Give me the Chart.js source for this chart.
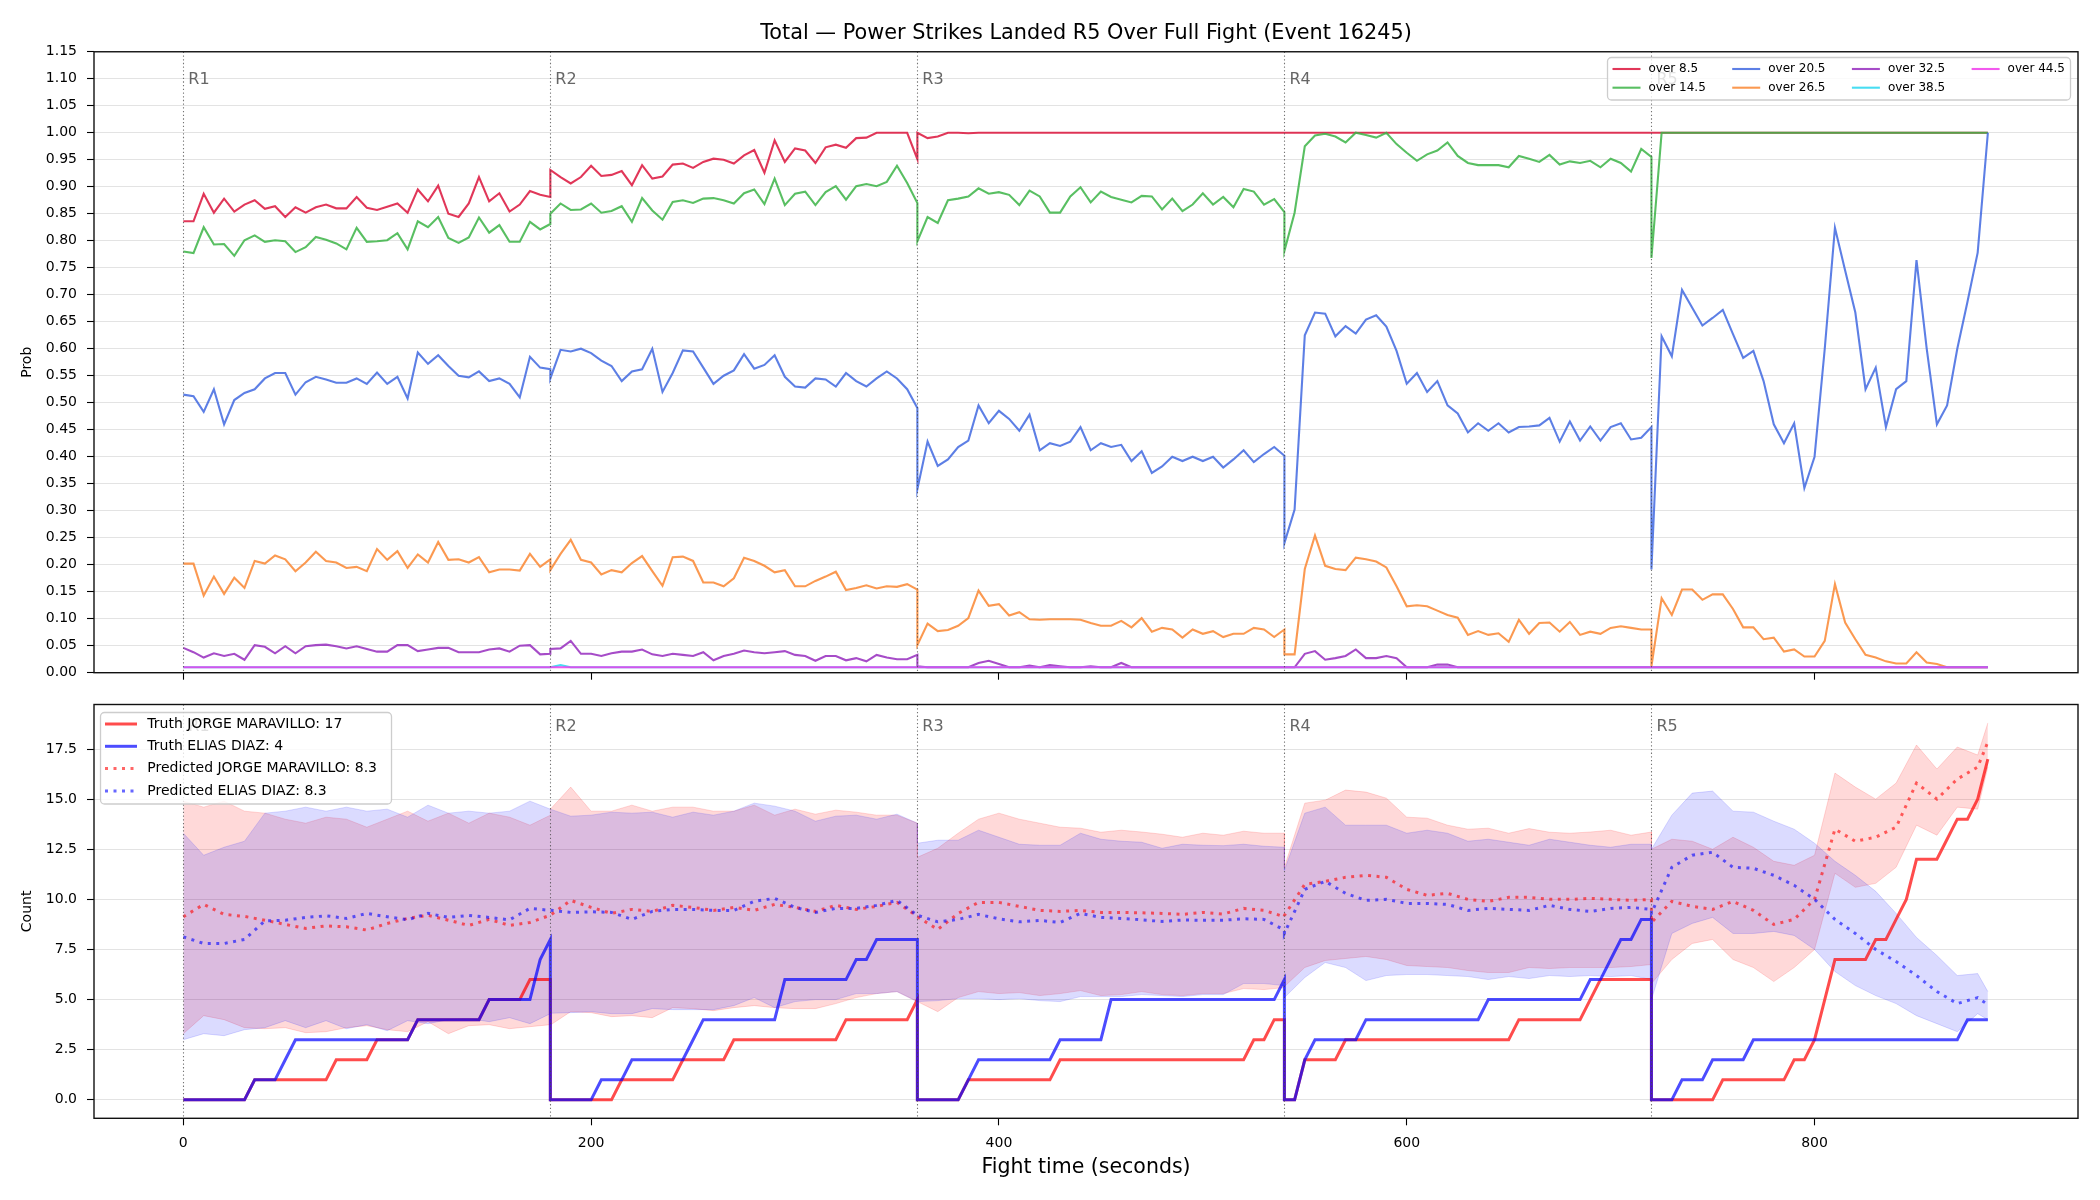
<!DOCTYPE html>
<html><head><meta charset="utf-8">
<script src="https://cdn.jsdelivr.net/npm/chart.js@4.4.1/dist/chart.umd.min.js"></script>
<style>
html,body{margin:0;padding:0;background:#fff;}
#wrap{position:relative;width:2100px;height:1200px;overflow:hidden;background:#fff;}
canvas{position:absolute;left:0;}
#c1{top:0;} #c2{top:684px;}
</style></head><body>
<div id="wrap"><canvas id="c1" width="2100" height="684"></canvas><canvas id="c2" width="2100" height="516"></canvas></div>
<script>
// ---------------- DATA ----------------
const titleText = 'Total \u2014 Power Strikes Landed R5 Over Full Fight (Event 16245)';
const roundStarts = [0, 180, 360, 540, 720];
const roundLabels = ['R1', 'R2', 'R3', 'R4', 'R5'];
const samplesPerRound = [37, 37, 37, 37, 34];          // 5-second samples
const bandOffsets   = [0,10,20,30,40,50,60,70,80,90,100,110,120,130,140,150,160,170,180];
const bandOffsetsR5 = [0,10,20,30,40,50,60,70,80,90,100,110,120,130,140,150,160,165];
const timeTicks  = [0, 200, 400, 600, 800];
const probTicks  = [0.00,0.05,0.10,0.15,0.20,0.25,0.30,0.35,0.40,0.45,0.50,0.55,0.60,0.65,0.70,0.75,0.80,0.85,0.90,0.95,1.00,1.05,1.10,1.15];
const countTicks = [0.0, 2.5, 5.0, 7.5, 10.0, 12.5, 15.0, 17.5];

const topNames = ['over 8.5','over 14.5','over 20.5','over 26.5','over 32.5','over 38.5','over 44.5'];

const over8_5 = [
 0.836,0.836,0.887,0.852,0.878,0.854,0.867,0.875,0.859,0.864,0.844,0.862,0.852,0.862,0.867,0.860,0.860,0.881,0.861,0.857,0.863,0.869,0.852,0.895,0.873,0.902,0.850,0.844,0.869,0.918,0.873,0.888,0.854,0.867,0.892,0.885,0.881,
 0.931,0.918,0.906,0.918,0.939,0.920,0.922,0.929,0.903,0.940,0.915,0.919,0.941,0.943,0.935,0.946,0.952,0.950,0.943,0.958,0.968,0.926,0.986,0.946,0.971,0.967,0.944,0.973,0.978,0.972,0.990,0.991,1.0,1.0,1.0,1.0,0.951,
 1.0,0.990,0.993,1.0,1.0,0.999,1.0,1.0,1.0,1.0, 1.0,1.0,1.0,1.0,1.0,1.0,1.0,1.0,1.0,1.0, 1.0,1.0,1.0,1.0,1.0,1.0,1.0,1.0,1.0,1.0, 1.0,1.0,1.0,1.0,1.0,1.0,1.0,
 1.0,1.0,1.0,1.0,1.0,1.0,1.0,1.0,1.0,1.0, 1.0,1.0,1.0,1.0,1.0,1.0,1.0,1.0,1.0,1.0, 1.0,1.0,1.0,1.0,1.0,1.0,1.0,1.0,1.0,1.0, 1.0,1.0,1.0,1.0,1.0,1.0,1.0,
 1.0,1.0,1.0,1.0,1.0,1.0,1.0,1.0,1.0,1.0, 1.0,1.0,1.0,1.0,1.0,1.0,1.0,1.0,1.0,1.0, 1.0,1.0,1.0,1.0,1.0,1.0,1.0,1.0,1.0,1.0, 1.0,1.0,1.0,1.0
];
const over14_5 = [
 0.780,0.777,0.825,0.793,0.794,0.772,0.801,0.810,0.798,0.801,0.799,0.779,0.788,0.807,0.802,0.795,0.784,0.824,0.798,0.799,0.801,0.814,0.784,0.836,0.825,0.844,0.805,0.796,0.806,0.843,0.815,0.829,0.798,0.798,0.835,0.821,0.831,
 0.850,0.869,0.857,0.858,0.869,0.852,0.855,0.864,0.835,0.879,0.856,0.839,0.872,0.875,0.870,0.878,0.879,0.875,0.869,0.888,0.895,0.868,0.915,0.866,0.887,0.891,0.866,0.890,0.901,0.876,0.901,0.905,0.901,0.909,0.939,0.907,0.870,
 0.799,0.844,0.833,0.875,0.878,0.882,0.897,0.887,0.890,0.885,0.866,0.893,0.882,0.852,0.852,0.882,0.899,0.871,0.891,0.881,0.876,0.871,0.883,0.882,0.858,0.878,0.855,0.867,0.888,0.867,0.881,0.862,0.896,0.891,0.867,0.877,0.853,
 0.781,0.852,0.975,0.995,0.998,0.993,0.982,1.0,0.996,0.991,1.0,0.979,0.963,0.948,0.960,0.967,0.982,0.957,0.944,0.940,0.940,0.940,0.936,0.957,0.952,0.946,0.959,0.941,0.947,0.944,0.948,0.936,0.952,0.944,0.928,0.970,0.955,
 0.768,1.0,1.0,1.0,1.0,1.0,1.0,1.0,1.0,1.0, 1.0,1.0,1.0,1.0,1.0,1.0,1.0,1.0,1.0,1.0, 1.0,1.0,1.0,1.0,1.0,1.0,1.0,1.0,1.0,1.0, 1.0,1.0,1.0,1.0
];
const over20_5 = [
 0.515,0.512,0.483,0.525,0.460,0.505,0.518,0.525,0.545,0.555,0.555,0.515,0.538,0.548,0.543,0.537,0.537,0.545,0.535,0.556,0.535,0.548,0.508,0.593,0.572,0.588,0.568,0.550,0.547,0.558,0.540,0.545,0.535,0.510,0.585,0.565,0.562,
 0.545,0.598,0.595,0.600,0.592,0.578,0.568,0.540,0.558,0.562,0.600,0.520,0.555,0.597,0.595,0.565,0.535,0.550,0.560,0.590,0.563,0.570,0.588,0.548,0.530,0.528,0.545,0.543,0.530,0.555,0.540,0.530,0.545,0.558,0.545,0.525,0.490,
 0.340,0.428,0.383,0.395,0.418,0.430,0.495,0.462,0.485,0.470,0.448,0.478,0.412,0.425,0.420,0.428,0.455,0.412,0.425,0.418,0.422,0.392,0.410,0.370,0.382,0.400,0.392,0.400,0.392,0.400,0.380,0.395,0.412,0.390,0.405,0.418,0.402,
 0.240,0.302,0.625,0.667,0.665,0.623,0.642,0.628,0.654,0.662,0.641,0.596,0.535,0.555,0.520,0.540,0.495,0.480,0.445,0.462,0.448,0.462,0.445,0.455,0.456,0.458,0.472,0.428,0.465,0.430,0.456,0.430,0.455,0.462,0.432,0.435,0.455,
 0.191,0.623,0.586,0.709,0.676,0.643,0.657,0.672,0.627,0.583,0.596,0.540,0.460,0.425,0.462,0.342,0.400,0.600,0.824,0.745,0.667,0.525,0.565,0.455,0.525,0.540,0.764,0.600,0.460,0.495,0.600,0.687,0.778,1.000
];
const over26_5 = [
 0.202,0.202,0.143,0.178,0.146,0.176,0.157,0.207,0.202,0.217,0.210,0.188,0.204,0.224,0.207,0.204,0.194,0.196,0.188,0.229,0.209,0.225,0.194,0.219,0.204,0.242,0.209,0.210,0.204,0.214,0.186,0.191,0.191,0.189,0.220,0.196,0.210,
 0.190,0.220,0.246,0.209,0.204,0.182,0.190,0.186,0.203,0.216,0.188,0.161,0.214,0.215,0.207,0.167,0.167,0.160,0.175,0.213,0.207,0.198,0.186,0.190,0.160,0.160,0.170,0.178,0.187,0.153,0.157,0.162,0.156,0.160,0.159,0.164,0.154,
 0.051,0.091,0.077,0.079,0.087,0.101,0.152,0.124,0.127,0.106,0.112,0.099,0.098,0.099,0.099,0.099,0.098,0.092,0.087,0.087,0.096,0.084,0.101,0.076,0.083,0.080,0.065,0.080,0.072,0.077,0.066,0.072,0.072,0.083,0.080,0.066,0.080,
 0.034,0.034,0.192,0.254,0.198,0.192,0.190,0.213,0.210,0.206,0.195,0.160,0.123,0.125,0.123,0.115,0.107,0.102,0.070,0.077,0.070,0.073,0.057,0.098,0.072,0.092,0.093,0.076,0.094,0.070,0.076,0.072,0.083,0.086,0.083,0.080,0.080,
 0.012,0.138,0.107,0.154,0.154,0.135,0.145,0.145,0.118,0.084,0.084,0.062,0.065,0.039,0.043,0.030,0.030,0.059,0.164,0.093,0.062,0.033,0.028,0.021,0.017,0.017,0.038,0.019,0.016,0.010,0.010,0.010,0.010,0.010
];
const over32_5 = [
 0.046,0.038,0.028,0.036,0.031,0.035,0.024,0.051,0.048,0.036,0.049,0.036,0.049,0.051,0.052,0.049,0.045,0.049,0.044,0.039,0.039,0.051,0.051,0.040,0.043,0.046,0.046,0.038,0.038,0.038,0.043,0.045,0.039,0.050,0.051,0.034,0.035,
 0.044,0.045,0.059,0.035,0.035,0.031,0.036,0.039,0.039,0.043,0.034,0.031,0.035,0.033,0.031,0.038,0.023,0.031,0.035,0.041,0.038,0.036,0.038,0.040,0.033,0.031,0.022,0.031,0.031,0.023,0.027,0.021,0.033,0.028,0.025,0.025,0.033,
 0.012,0.010,0.010,0.010,0.010,0.010,0.018,0.022,0.016,0.010,0.010,0.013,0.010,0.014,0.012,0.010,0.010,0.012,0.010,0.010,0.018,0.010,0.010,0.010,0.010,0.010,0.010,0.010,0.010,0.010,0.010,0.010,0.010,0.010,0.010,0.010,0.010,
 0.010,0.010,0.035,0.040,0.024,0.027,0.031,0.043,0.027,0.027,0.031,0.027,0.010,0.010,0.010,0.015,0.015,0.010,0.010,0.010,0.010,0.010,0.010,0.010,0.010,0.010,0.010,0.010,0.010,0.010,0.010,0.010,0.010,0.010,0.010,0.010,0.010,
 0.010,0.010,0.010,0.010,0.010,0.010,0.010,0.010,0.010,0.010,0.010,0.010,0.010,0.010,0.010,0.010,0.010,0.010,0.010,0.010,0.010,0.010,0.010,0.010,0.010,0.010,0.010,0.010,0.010,0.010,0.010,0.010,0.010,0.010
];
const over38_5 = [
 0.010,0.010,0.010,0.010,0.010,0.010,0.010,0.010,0.010,0.010,0.010,0.010,0.010,0.010,0.010,0.010,0.010,0.010,0.010,0.010,0.010,0.010,0.010,0.010,0.010,0.010,0.010,0.010,0.010,0.010,0.010,0.010,0.010,0.010,0.010,0.010,0.010,
 0.010,0.014,0.010,0.010,0.010,0.010,0.010,0.010,0.010,0.010,0.010,0.010,0.010,0.010,0.010,0.010,0.010,0.010,0.010,0.010,0.010,0.010,0.010,0.010,0.010,0.010,0.010,0.010,0.010,0.010,0.010,0.010,0.010,0.010,0.010,0.010,0.010,
 0.010,0.010,0.010,0.010,0.010,0.010,0.010,0.010,0.010,0.010,0.010,0.010,0.010,0.010,0.010,0.010,0.010,0.010,0.010,0.010,0.010,0.010,0.010,0.010,0.010,0.010,0.010,0.010,0.010,0.010,0.010,0.010,0.010,0.010,0.010,0.010,0.010,
 0.010,0.010,0.010,0.010,0.010,0.010,0.010,0.010,0.010,0.010,0.010,0.010,0.010,0.010,0.010,0.010,0.010,0.010,0.010,0.010,0.010,0.010,0.010,0.010,0.010,0.010,0.010,0.010,0.010,0.010,0.010,0.010,0.010,0.010,0.010,0.010,0.010,
 0.010,0.010,0.010,0.010,0.010,0.010,0.010,0.010,0.010,0.010,0.010,0.010,0.010,0.010,0.010,0.010,0.010,0.010,0.010,0.010,0.010,0.010,0.010,0.010,0.010,0.010,0.010,0.010,0.010,0.010,0.010,0.010,0.010,0.010
];
const over44_5 = [
 0.010,0.010,0.010,0.010,0.010,0.010,0.010,0.010,0.010,0.010,0.010,0.010,0.010,0.010,0.010,0.010,0.010,0.010,0.010,0.010,0.010,0.010,0.010,0.010,0.010,0.010,0.010,0.010,0.010,0.010,0.010,0.010,0.010,0.010,0.010,0.010,0.010,
 0.010,0.010,0.010,0.010,0.010,0.010,0.010,0.010,0.010,0.010,0.010,0.010,0.010,0.010,0.010,0.010,0.010,0.010,0.010,0.010,0.010,0.010,0.010,0.010,0.010,0.010,0.010,0.010,0.010,0.010,0.010,0.010,0.010,0.010,0.010,0.010,0.010,
 0.010,0.010,0.010,0.010,0.010,0.010,0.010,0.010,0.010,0.010,0.010,0.010,0.010,0.010,0.010,0.010,0.010,0.010,0.010,0.010,0.010,0.010,0.010,0.010,0.010,0.010,0.010,0.010,0.010,0.010,0.010,0.010,0.010,0.010,0.010,0.010,0.010,
 0.010,0.010,0.010,0.010,0.010,0.010,0.010,0.010,0.010,0.010,0.010,0.010,0.010,0.010,0.010,0.010,0.010,0.010,0.010,0.010,0.010,0.010,0.010,0.010,0.010,0.010,0.010,0.010,0.010,0.010,0.010,0.010,0.010,0.010,0.010,0.010,0.010,
 0.010,0.010,0.010,0.010,0.010,0.010,0.010,0.010,0.010,0.010,0.010,0.010,0.010,0.010,0.010,0.010,0.010,0.010,0.010,0.010,0.010,0.010,0.010,0.010,0.010,0.010,0.010,0.010,0.010,0.010,0.010,0.010,0.010,0.010
];

// bottom panel
const fighterLabels = ['Truth JORGE MARAVILLO: 17', 'Truth ELIAS DIAZ: 4', 'Predicted JORGE MARAVILLO: 8.3', 'Predicted ELIAS DIAZ: 8.3'];
const truthRed = [
 0,0,0,0,0,0,0,1,1,1,1,1,1,1,1,2,2,2,2,3,3,3,3,4,4,4,4,4,4,4,5,5,5,5,6,6,6,
 0,0,0,0,0,0,0,1,1,1,1,1,1,2,2,2,2,2,3,3,3,3,3,3,3,3,3,3,3,4,4,4,4,4,4,4,5,
 0,0,0,0,0,1,1,1,1,1,1,1,1,1,2,2,2,2,2,2,2,2,2,2,2,2,2,2,2,2,2,2,2,3,3,4,4,
 0,0,2,2,2,2,3,3,3,3,3,3,3,3,3,3,3,3,3,3,3,3,3,4,4,4,4,4,4,4,5,6,6,6,6,6,6,
 0,0,0,0,0,0,0,1,1,1,1,1,1,1,2,2,3,5,7,7,7,7,8,8,9,10,12,12,12,13,14,14,15,17
];
const truthBlue = [
 0,0,0,0,0,0,0,1,1,1,2,3,3,3,3,3,3,3,3,3,3,3,3,4,4,4,4,4,4,4,5,5,5,5,5,7,8,
 0,0,0,0,0,1,1,1,2,2,2,2,2,2,3,4,4,4,4,4,4,4,4,6,6,6,6,6,6,6,7,7,8,8,8,8,8,
 0,0,0,0,0,1,2,2,2,2,2,2,2,2,3,3,3,3,3,5,5,5,5,5,5,5,5,5,5,5,5,5,5,5,5,5,6,
 0,0,2,3,3,3,3,3,4,4,4,4,4,4,4,4,4,4,4,4,5,5,5,5,5,5,5,5,5,5,6,6,7,8,8,9,9,
 0,0,0,1,1,1,2,2,2,2,3,3,3,3,3,3,3,3,3,3,3,3,3,3,3,3,3,3,3,3,3,4,4,4
];
const predRed = [
 9.13,9.75,9.25,9.15,8.96,8.75,8.55,8.68,8.63,8.47,8.8,9.05,9.2,8.96,8.7,9.0,8.7,8.85,9.21,
 9.21,9.95,9.6,9.3,9.5,9.4,9.7,9.6,9.45,9.6,9.45,9.75,9.6,9.4,9.7,9.5,9.65,9.85,9.15,
 9.13,8.5,9.3,9.85,9.85,9.65,9.45,9.4,9.45,9.35,9.35,9.33,9.3,9.25,9.35,9.27,9.55,9.45,9.13,
 9.2,10.75,10.9,11.1,11.2,11.1,10.5,10.2,10.3,10.0,9.9,10.1,10.1,10.0,10.0,10.05,10.0,9.95,10.0,
 8.85,9.9,9.65,9.5,9.9,9.45,8.75,9.0,10.0,13.5,12.9,13.1,13.6,15.8,15.0,16.0,16.6,17.85
];
const predBlue = [
 8.13,7.8,7.8,8.0,8.93,8.96,9.1,9.18,9.05,9.3,9.13,8.98,9.3,9.1,9.2,9.1,8.98,9.55,9.45,
 9.46,9.35,9.38,9.35,9.0,9.4,9.5,9.5,9.45,9.45,9.9,10.05,9.6,9.35,9.55,9.55,9.7,9.95,9.2,
 9.21,8.88,9.0,9.25,9.03,8.88,8.95,8.85,9.3,9.1,9.05,8.98,8.9,8.97,8.96,8.96,9.03,9.0,8.47,
 8.3,10.5,10.9,10.3,9.95,10.0,9.8,9.8,9.75,9.45,9.55,9.5,9.45,9.7,9.5,9.4,9.55,9.6,9.5,
 9.3,11.6,12.2,12.35,11.6,11.55,11.2,10.7,10.0,9.0,8.3,7.5,6.9,6.2,5.4,4.8,5.1,4.75
];
const redHi = [
 14.9,14.6,14.9,14.4,14.3,14.0,13.8,14.1,14.0,13.6,14.0,14.4,13.9,14.3,13.8,14.3,14.1,13.7,14.2,
 14.5,15.6,14.4,14.4,14.7,14.4,14.6,14.6,14.4,14.4,14.7,14.2,14.5,14.25,14.45,14.35,14.2,14.2,13.8,
 12.1,12.55,13.3,14.0,14.3,14.0,13.8,13.6,13.55,13.35,13.45,13.36,13.25,13.1,13.3,13.2,13.4,13.3,13.3,
 11.6,14.8,14.95,15.45,15.35,15.05,14.1,14.05,13.7,13.5,13.55,13.3,13.53,13.35,13.3,13.36,13.45,13.2,13.36,
 12.5,13.0,12.9,12.5,13.1,12.6,11.9,11.7,12.2,16.3,15.6,15.0,15.8,17.7,16.5,17.6,17.2,18.8
];
const redLo = [
 3.3,4.2,4.0,3.6,3.55,3.6,3.35,3.4,3.6,3.7,3.5,3.4,3.9,3.3,3.7,3.75,3.55,3.65,3.75,
 3.73,4.4,4.35,4.15,4.2,4.1,4.6,4.55,4.45,4.6,4.7,4.6,4.55,4.55,4.8,5.1,5.3,5.4,4.9,
 4.9,4.4,5.1,5.4,5.3,5.35,5.2,5.3,5.45,5.2,5.25,5.4,5.25,5.2,5.3,5.3,5.55,5.5,5.6,
 5.65,6.6,6.95,7.05,7.15,7.0,6.7,6.65,6.6,6.45,6.35,6.35,6.6,6.55,6.6,6.6,6.6,6.65,6.75,
 5.8,7.0,7.8,8.0,7.0,6.6,5.9,6.6,7.5,11.3,10.6,10.8,11.6,13.7,13.2,14.6,14.5,16.6
];
const blueHi = [
 13.3,12.2,12.6,12.9,14.3,14.4,14.6,14.4,14.6,14.4,14.5,14.1,14.7,14.3,14.4,14.3,14.4,14.9,14.5,
 14.5,14.15,14.2,14.35,14.3,14.35,14.1,14.35,14.2,14.4,14.8,14.65,14.4,13.9,14.15,14.2,14.0,14.25,13.8,
 12.8,12.95,12.95,13.45,13.1,12.75,12.7,12.7,13.3,13.0,12.9,12.85,12.55,12.75,12.7,12.68,12.75,12.65,12.6,
 11.45,14.3,14.6,13.7,13.7,13.7,13.3,13.45,13.3,12.9,13.0,12.85,12.7,13.0,12.85,12.7,12.6,12.75,12.75,
 12.5,14.2,15.3,15.4,14.4,14.35,13.9,13.5,12.8,11.9,11.2,10.4,9.3,8.1,7.2,6.2,6.3,5.4
];
const blueLo = [
 3.0,3.3,3.2,3.5,3.6,3.95,3.6,3.95,3.55,3.75,3.45,3.95,3.8,4.0,4.05,3.9,4.1,3.8,4.3,
 4.32,4.35,4.4,4.3,4.3,4.55,4.5,4.5,4.5,4.7,5.1,4.6,4.9,5.0,5.0,5.3,5.3,5.4,4.9,
 4.9,4.95,5.05,5.05,5.0,5.05,4.95,4.9,5.15,5.15,5.15,5.25,5.2,5.15,5.25,5.25,5.8,5.8,5.7,
 5.1,6.1,6.85,6.6,5.95,6.2,6.25,6.25,6.2,6.15,6.0,6.15,6.05,6.2,6.15,6.2,6.15,6.2,6.0,
 5.0,8.3,8.8,9.1,8.3,8.3,8.4,8.2,7.5,6.4,5.7,5.2,4.8,4.2,3.8,3.4,4.3,4.0
];

// ---------------- BUILD ----------------
const FONT = '"DejaVu Sans", "Liberation Sans", sans-serif';
Chart.defaults.font.family = FONT;
Chart.defaults.font.size = 14;
Chart.defaults.color = '#000';

const t5 = [];
roundStarts.forEach((s, r) => { for (let k = 0; k < samplesPerRound[r]; k++) t5.push(s + 5 * k); });
const bandTimes = [];
roundStarts.forEach((s, r) => { (r === 4 ? bandOffsetsR5 : bandOffsets).forEach(o => bandTimes.push(s + o)); });
const pts = (ts, vs) => ts.map((t, i) => ({ x: t, y: vs[i] }));

const roundMarks = {
  id: 'roundMarks',
  afterDatasetsDraw(chart, args, o) {
    const { ctx, chartArea: a, scales } = chart;
    const x = scales.x, y = scales.y;
    ctx.save();
    ctx.beginPath(); ctx.rect(a.left, a.top, a.right - a.left, a.bottom - a.top); ctx.clip();
    ctx.strokeStyle = 'rgba(70,70,70,0.75)'; ctx.lineWidth = 1.1; ctx.setLineDash([1.3, 2.4]);
    roundStarts.forEach(t => {
      const px = Math.round(x.getPixelForValue(t)) + 0.5;
      ctx.beginPath(); ctx.moveTo(px, a.top); ctx.lineTo(px, a.bottom); ctx.stroke();
    });
    ctx.setLineDash([]);
    ctx.fillStyle = 'rgba(85,85,85,0.9)'; ctx.font = '16px ' + FONT;
    ctx.textAlign = 'left'; ctx.textBaseline = 'alphabetic';
    roundLabels.forEach((lab, i) => ctx.fillText(lab, x.getPixelForValue(roundStarts[i]) + 5, y.getPixelForValue(o.labelY)));
    ctx.restore();
    ctx.save();
    ctx.strokeStyle = '#111'; ctx.lineWidth = 1.4;
    ctx.strokeRect(a.left, a.top, a.right - a.left, a.bottom - a.top);
    ctx.restore();
  }
};

const boxLegend = {
  id: 'boxLegend',
  afterDraw(chart, args, o) {
    const ctx = chart.ctx;
    ctx.save();
    ctx.setLineDash([]);
    ctx.beginPath();
    if (ctx.roundRect) ctx.roundRect(o.x, o.y, o.w, o.h, 4); else ctx.rect(o.x, o.y, o.w, o.h);
    ctx.fillStyle = 'rgba(255,255,255,0.8)'; ctx.fill();
    ctx.strokeStyle = 'rgba(200,200,200,0.9)'; ctx.lineWidth = 1.3; ctx.stroke();
    ctx.font = o.fontSize + 'px ' + FONT; ctx.textBaseline = 'middle'; ctx.textAlign = 'left';
    o.items.forEach(it => {
      const ds = chart.data.datasets[it.ds];
      const hx = o.x0 + it.col * o.colW, hy = o.y0 + it.row * o.rowH;
      ctx.strokeStyle = ds.borderColor; ctx.lineWidth = ds.borderWidth;
      ctx.setLineDash(ds.borderDash || []);
      ctx.beginPath(); ctx.moveTo(hx, hy); ctx.lineTo(hx + o.handle, hy); ctx.stroke();
      ctx.setLineDash([]);
      ctx.fillStyle = '#000';
      ctx.fillText(ds.label, hx + o.handle + o.gap, hy);
    });
    ctx.restore();
  }
};

const setTicks = list => scale => { scale.ticks = list.map(v => ({ value: v })); };
const commonOpts = { responsive: false, animation: false, devicePixelRatio: 1, events: [] };
const fitX = h => s => { s.height = h; s.paddingLeft = 0; s.paddingRight = 0; s.paddingTop = 0; s.paddingBottom = 0; };
const fitY = w => s => { s.width = w; s.paddingLeft = 0; s.paddingRight = 0; s.paddingTop = 0; s.paddingBottom = 0; };
const xAxisBase = {
  type: 'linear', min: -43.8, max: 929.2,
  afterBuildTicks: setTicks(timeTicks),
  border: { display: false },
  grid: { drawOnChartArea: false, drawTicks: true, tickLength: 7, tickColor: '#000', tickWidth: 1.1 }
};

// ---------------- TOP CHART ----------------
const topSeries = [over8_5, over14_5, over20_5, over26_5, over32_5, over38_5, over44_5];
const topColors = ['rgba(220,20,60,0.85)', 'rgba(60,180,70,0.85)', 'rgba(65,105,225,0.85)',
                   'rgba(250,135,50,0.85)', 'rgba(150,45,190,0.85)', 'rgba(40,215,240,0.85)', 'rgba(240,60,235,0.85)'];
new Chart(document.getElementById('c1'), {
  type: 'line',
  data: {
    datasets: topNames.map((name, i) => ({
      label: name, data: pts(t5, topSeries[i]), borderColor: topColors[i], backgroundColor: topColors[i],
      borderWidth: 2.1, pointRadius: 0, tension: 0, fill: false, order: topNames.length - i
    }))
  },
  options: Object.assign({}, commonOpts, {
    layout: { padding: { left: 0, right: 22, top: 0, bottom: 0 } },
    plugins: {
      legend: { display: false }, tooltip: { enabled: false },
      title: { display: true, fullSize: false, text: titleText, color: '#000', font: { size: 20.8, weight: 'normal' }, padding: { top: 21.2, bottom: 5.6 } },
      roundMarks: { labelY: 1.09 },
      boxLegend: {
        x: 1607.5, y: 57.5, w: 463, h: 42.5, x0: 1612.5, y0: 69, colW: 119.7, rowH: 18.7, handle: 28, gap: 8, fontSize: 12,
        items: [{ds:0,col:0,row:0},{ds:1,col:0,row:1},{ds:2,col:1,row:0},{ds:3,col:1,row:1},{ds:4,col:2,row:0},{ds:5,col:2,row:1},{ds:6,col:3,row:0}]
      }
    },
    scales: {
      x: Object.assign({}, xAxisBase, { ticks: { display: false }, afterFit: fitX(11.3) }),
      y: {
        min: 0, max: 1.15, afterBuildTicks: setTicks(probTicks),
        ticks: { callback: v => v.toFixed(2), padding: 10, autoSkip: false, color: '#000', font: { size: 14 } },
        grid: { color: '#e3e3e3', lineWidth: 1, tickColor: '#000', tickLength: 7, tickWidth: 1.1 },
        border: { display: false },
        title: { display: true, text: 'Prob', color: '#000', font: { size: 14 }, padding: { top: 18.6, bottom: 0 } },
        afterFit: fitY(94)
      }
    }
  }),
  plugins: [roundMarks, boxLegend]
});

// ---------------- BOTTOM CHART ----------------
const bandStyle = (c) => ({ borderColor: c, backgroundColor: c, borderWidth: 1, pointRadius: 0, tension: 0 });
const bottomSets = [
  Object.assign({ label: 'red band hi', data: pts(bandTimes, redHi), fill: 1 }, bandStyle('rgba(255,0,0,0.15)')),
  Object.assign({ label: 'red band lo', data: pts(bandTimes, redLo), fill: false }, bandStyle('rgba(255,0,0,0.15)')),
  Object.assign({ label: 'blue band hi', data: pts(bandTimes, blueHi), fill: 3 }, bandStyle('rgba(0,0,255,0.14)')),
  Object.assign({ label: 'blue band lo', data: pts(bandTimes, blueLo), fill: false }, bandStyle('rgba(0,0,255,0.14)')),
  { label: fighterLabels[0], data: pts(t5, truthRed), borderColor: 'rgba(255,0,0,0.7)', borderWidth: 3, pointRadius: 0, tension: 0, fill: false },
  { label: fighterLabels[1], data: pts(t5, truthBlue), borderColor: 'rgba(0,0,255,0.7)', borderWidth: 3, pointRadius: 0, tension: 0, fill: false },
  { label: fighterLabels[2], data: pts(bandTimes, predRed), borderColor: 'rgba(255,0,0,0.6)', borderWidth: 3, borderDash: [3, 5.5], pointRadius: 0, tension: 0, fill: false },
  { label: fighterLabels[3], data: pts(bandTimes, predBlue), borderColor: 'rgba(0,0,255,0.6)', borderWidth: 3, borderDash: [3, 5.5], pointRadius: 0, tension: 0, fill: false }
];
bottomSets.forEach((d, i) => { d.order = bottomSets.length - i; });

new Chart(document.getElementById('c2'), {
  type: 'line',
  data: { datasets: bottomSets },
  options: Object.assign({}, commonOpts, {
    layout: { padding: { left: 0, right: 22, top: 20.5, bottom: 0 } },
    plugins: {
      legend: { display: false }, tooltip: { enabled: false }, title: { display: false },
      filler: { propagate: false },
      roundMarks: { labelY: 18.4 },
      boxLegend: {
        x: 100.5, y: 28.5, w: 291, h: 91.5, x0: 105, y0: 40, colW: 0, rowH: 22.3, handle: 32, gap: 10.3, fontSize: 14,
        items: [{ds:4,col:0,row:0},{ds:5,col:0,row:1},{ds:6,col:0,row:2},{ds:7,col:0,row:3}]
      }
    },
    scales: {
      x: Object.assign({}, xAxisBase, {
        ticks: { callback: v => String(v), padding: 10, color: '#000', font: { size: 14 }, autoSkip: false, maxRotation: 0 },
        title: { display: true, text: 'Fight time (seconds)', color: '#000', font: { size: 20.5 }, padding: { top: 0, bottom: 20.2 } },
        afterFit: fitX(81.7)
      }),
      y: {
        min: -0.92, max: 19.72, afterBuildTicks: setTicks(countTicks),
        ticks: { callback: v => v.toFixed(1), padding: 10, autoSkip: false, color: '#000', font: { size: 14 } },
        grid: { color: '#e3e3e3', lineWidth: 1, tickColor: '#000', tickLength: 7, tickWidth: 1.1 },
        border: { display: false },
        title: { display: true, text: 'Count', color: '#000', font: { size: 14 }, padding: { top: 18.6, bottom: 0 } },
        afterFit: fitY(94)
      }
    }
  }),
  plugins: [roundMarks, boxLegend]
});
</script></body></html>
